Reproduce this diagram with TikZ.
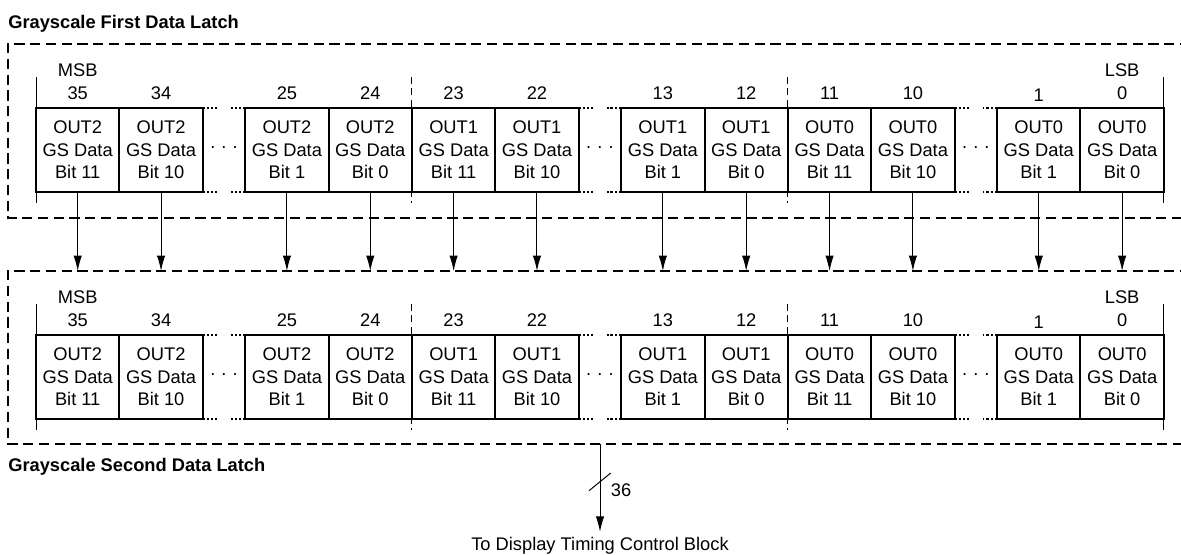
\documentclass[tikz,border=0pt]{standalone}
\usepackage{fontspec}
\setmainfont{Liberation Sans}
\usetikzlibrary{arrows.meta, positioning}
\tikzstyle{latchpic}=[x=0.025cm, y=0.025cm, >={Latex[length=11pt,width=6pt]}, font=\fontsize{13}{16}\selectfont]
\tikzstyle{cell}=[draw, line width=1.4pt, minimum width=2.0833cm, minimum height=2.09cm, inner sep=0pt, outer sep=0pt, align=center]
\tikzstyle{tag}=[inner sep=0pt, text height=9.3pt, text depth=0pt, label distance=6pt]
\tikzstyle{title}=[anchor=base west, inner sep=0pt, font=\fontsize{13}{16}\selectfont\bfseries]
\tikzstyle{frame}=[line width=1.4pt, dash pattern=on 7.2pt off 4pt]
\tikzstyle{divider}=[line width=0.7pt, dash pattern=on 5pt off 3pt]
\tikzstyle{stub}=[line width=1.4pt, dash pattern=on 1.6pt off 1.4pt]
\tikzstyle{bitwire}=[->, line width=0.7pt]

% one row of latch cells, #1 = name prefix, #2 = centre of bit 35
\newcommand{\latchrow}[2]{
  \node[cell, label={[tag]above:35}, label={[tag,label distance=22.4pt]above:MSB}] (#135) at #2 {OUT2\\GS Data\\Bit 11};
  \node[cell, label={[tag]above:34}] (#134) [right=0pt of #135] {OUT2\\GS Data\\Bit 10};
  \node[cell, label={[tag]above:25}] (#125) [right=1.0625cm of #134] {OUT2\\GS Data\\Bit 1};
  \node[cell, label={[tag]above:24}] (#124) [right=0pt of #125] {OUT2\\GS Data\\Bit 0};
  \node[cell, label={[tag]above:23}] (#123) [right=0pt of #124] {OUT1\\GS Data\\Bit 11};
  \node[cell, label={[tag]above:22}] (#122) [right=0pt of #123] {OUT1\\GS Data\\Bit 10};
  \node[cell, label={[tag]above:13}] (#113) [right=1.0625cm of #122] {OUT1\\GS Data\\Bit 1};
  \node[cell, label={[tag]above:12}] (#112) [right=0pt of #113] {OUT1\\GS Data\\Bit 0};
  \node[cell, label={[tag]above:11}] (#111) [right=0pt of #112] {OUT0\\GS Data\\Bit 11};
  \node[cell, label={[tag]above:10}] (#110) [right=0pt of #111] {OUT0\\GS Data\\Bit 10};
  \node[cell, label={[tag,label distance=4.6pt]above:1}] (#11) [right=1.0625cm of #110] {OUT0\\GS Data\\Bit 1};
  \node[cell, label={[tag]above:0}, label={[tag,label distance=22.4pt]above:LSB}] (#10) [right=0pt of #11] {OUT0\\GS Data\\Bit 0};
  % end ticks and dividers
  \draw[line width=0.6pt] ([yshift=22pt]#135.north west) -- ([yshift=-7.8pt]#135.south west);
  \draw[line width=0.6pt] ([yshift=22pt]#10.north east) -- ([yshift=-7.8pt]#10.south east);
  \draw[divider] ([yshift=22pt]#124.north east) -- ([yshift=-7.8pt]#124.south east);
  \draw[divider] ([yshift=22pt]#112.north east) -- ([yshift=-7.8pt]#112.south east);
  % gaps
  \draw[stub] (#134.north east) -- +(10pt,0) (#134.south east) -- +(10pt,0);
  \draw[stub] (#125.north west) -- +(-10pt,0) (#125.south west) -- +(-10pt,0);
  \draw[stub] (#122.north east) -- +(10pt,0) (#122.south east) -- +(10pt,0);
  \draw[stub] (#113.north west) -- +(-10pt,0) (#113.south west) -- +(-10pt,0);
  \draw[stub] (#110.north east) -- +(10pt,0) (#110.south east) -- +(10pt,0);
  \draw[stub] (#11.north west) -- +(-10pt,0) (#11.south west) -- +(-10pt,0);
  \path (#134) -- node {· · ·} (#125);
  \path (#122) -- node {· · ·} (#113);
  \path (#110) -- node {· · ·} (#11);
}

\begin{document}
\begin{tikzpicture}[latchpic]
  \useasboundingbox (0,0) rectangle (1181,-554);
  \node[title] (t1) at (8,-28) {Grayscale First Data Latch};
  \node[title] (t2) at (8,-471) {Grayscale Second Data Latch};
  \draw[frame] (1190,-44) -- (8,-44) -- (8,-218) -- (1190,-218);
  \draw[frame] (1190,-271) -- (8,-271) -- (8,-444) -- (1190,-444);
  \coordinate (in2) at (8,-271);
  \coordinate (out2) at (600,-444);
  \latchrow{f}{(77.7,-149.8)}
  \latchrow{s}{(77.7,-376.8)}
  \foreach \b in {35,34,25,24,23,22,13,12,11,10,1,0}
    \draw[bitwire] (f\b) -- (f\b |- in2);
  \node[anchor=base] (disp) at (600,-550) {To Display Timing Control Block};
  \draw[bitwire] (out2) -- (disp);
  \draw[line width=0.7pt] (589,-490.7) -- (610.7,-473);
  \node[anchor=west] (bus) at (606,-490) {36};
\end{tikzpicture}
\end{document}
